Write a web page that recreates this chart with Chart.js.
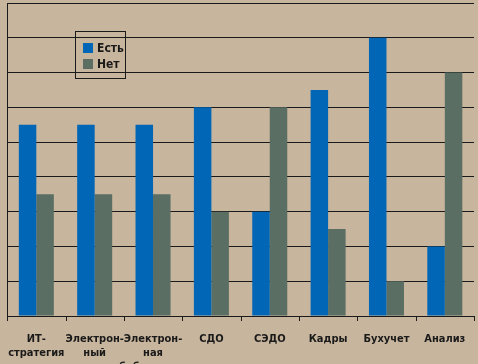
<!DOCTYPE html>
<html>
<head>
<meta charset="utf-8">
<script src="https://cdn.jsdelivr.net/npm/chart.js@4/dist/chart.umd.min.js"></script>
<style>
  html, body { margin: 0; padding: 0; background: #c8b59d; }
  #wrap { position: relative; width: 478px; height: 364px; }
  #legend {
    position: absolute; left: 75px; top: 31px; width: 49px; height: 46px;
    border: 1px solid #1a1a1a; font: bold 12px "DejaVu Sans Condensed", sans-serif; color: #1a1a1a;
  }
  #legend div { display: flex; align-items: center; height: 16px; margin-left: 7px; }
  #legend div:first-child { margin-top: 8px; }
  #legend span { display: inline-block; width: 10px; height: 10px; margin-right: 4px; }
</style>
</head>
<body>
<div id="wrap">
  <canvas id="chart" width="478" height="364"></canvas>
  <div id="legend"></div>
</div>
<script>
const categories = [
  ["ИТ-", "стратегия"],
  ["Электрон-", "ный", "портал"],
  ["Электрон-", "ная", "библиотека"],
  "СДО", "СЭДО", "Кадры", "Бухучет", "Анализ"
];
const seriesNames = ["Есть", "Нет"];
const haveValues = [5.5, 5.5, 5.5, 6, 3, 6.5, 8, 2];
const noValues = [3.5, 3.5, 3.5, 3, 6, 2.5, 1, 7];
const colors = ["#0066b5", "#5a6e63"];

function renderLegend(chart) {
  const box = document.getElementById("legend");
  box.innerHTML = chart.data.datasets.map(ds =>
    `<div><span style="background:${ds.backgroundColor}"></span>${ds.label}</div>`).join("");
}

// small tick marks between categories, below the x axis
const categoryTicks = {
  id: "categoryTicks",
  afterDraw(chart) {
    const x = chart.scales.x;
    const n = x.ticks.length;
    const ctx = chart.ctx;
    ctx.save();
    ctx.strokeStyle = "#1a1a1a";
    ctx.lineWidth = 1;
    ctx.beginPath();
    for (let i = 0; i <= n; i++) {
      const px = Math.round(x.left + (x.right - x.left) * i / n) + 0.5;
      ctx.moveTo(px, x.top);
      ctx.lineTo(px, x.top + 5);
    }
    ctx.stroke();
    ctx.restore();
  }
};

const chart = new Chart(document.getElementById("chart"), {
  type: "bar",
  data: {
    labels: categories,
    datasets: [
      { label: seriesNames[0], data: haveValues, backgroundColor: colors[0] },
      { label: seriesNames[1], data: noValues, backgroundColor: colors[1] }
    ]
  },
  plugins: [categoryTicks],
  options: {
    responsive: false,
    animation: false,
    layout: { padding: { left: 3, right: 4, top: 3, bottom: 0 } },
    plugins: { legend: { display: false }, tooltip: { enabled: false } },
    datasets: { bar: { categoryPercentage: 0.6, barPercentage: 1.0 } },
    scales: {
      x: {
        afterFit: scale => { scale.height = 48; },
        border: { color: "#1a1a1a", width: 1 },
        grid: { display: false },
        ticks: {
          color: "#1a1a1a", maxRotation: 0, autoSkip: false, padding: 8,
          font: { family: "DejaVu Sans Condensed", weight: "bold", size: 11, lineHeight: 1.27 }
        }
      },
      y: {
        min: 0, max: 9,
        border: { color: "#1a1a1a", width: 1 },
        grid: { color: "#1a1a1a", lineWidth: 1, drawTicks: false },
        ticks: { display: false, stepSize: 1 }
      }
    }
  }
});
renderLegend(chart);
</script>
</body>
</html>
